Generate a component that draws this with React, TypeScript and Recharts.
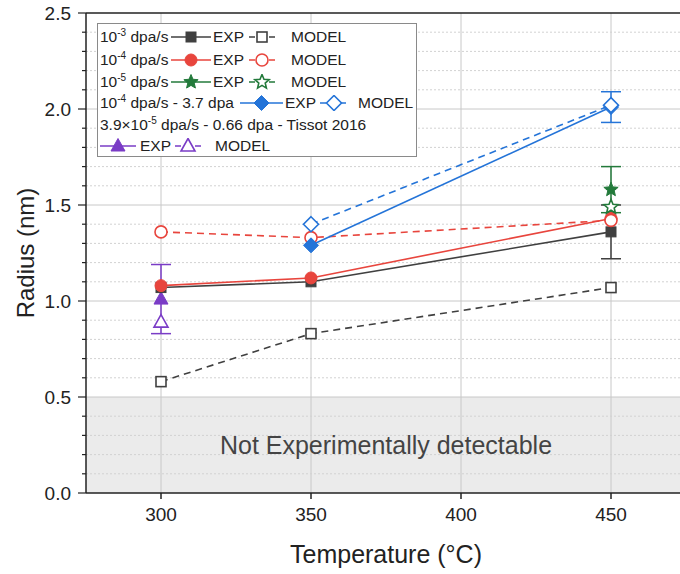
import React from 'react';
import {
  CartesianGrid,
  ComposedChart,
  ErrorBar,
  Line,
  ReferenceArea,
  ReferenceLine,
  XAxis,
  YAxis,
} from 'recharts';

// temperatures (°C) and radii (nm)
const temps = [300, 350, 450];
const exp1e3 = [1.07, 1.1, 1.36];
const exp1e3Err = [null, null, 0.14];
const model1e3 = [0.58, 0.83, 1.07];
const exp1e4 = [1.08, 1.12, 1.43];
const model1e4 = [1.36, 1.33, 1.42];

const temps1e5 = [450];
const exp1e5 = [1.58];
const exp1e5Err = [0.12];
const model1e5 = [1.49];

const temps37 = [350, 450];
const exp37 = [1.29, 2.01];
const exp37Err = [null, 0.08];
const model37 = [1.4, 2.02];

const tempsTissot = [300];
const expTissot = [1.01];
const expTissotErr = [0.18];
const modelTissot = [0.89];

const xTicks = [300, 350, 400, 450];
const yMajor = [0, 0.5, 1, 1.5, 2, 2.5];
const yAll = [
  0, 0.1, 0.2, 0.3, 0.4, 0.5, 0.6, 0.7, 0.8, 0.9, 1, 1.1, 1.2, 1.3, 1.4, 1.5,
  1.6, 1.7, 1.8, 1.9, 2, 2.1, 2.2, 2.3, 2.4, 2.5,
];
const yMinor = yAll.filter((v) => !yMajor.includes(v));

const BLACK = '#404040';
const RED = '#e8453d';
const GREEN = '#237a3b';
const BLUE = '#2474d8';
const PURPLE = '#7a3cc6';
const FONT = 'Arial, "Liberation Sans", sans-serif';

type Shape = 'square' | 'circle' | 'star' | 'diamond' | 'triangle';

function toPoints(t: number[], r: number[], err?: (number | null)[]) {
  return t.map((x, i) => {
    const p: any = { t: x, r: r[i] };
    if (err && err[i] != null) p.e = err[i];
    return p;
  });
}

function starPoints(cx: number, cy: number, ro: number) {
  const ri = ro * 0.45;
  const pts: string[] = [];
  for (let i = 0; i < 10; i++) {
    const rad = i % 2 === 0 ? ro : ri;
    const a = -Math.PI / 2 + (i * Math.PI) / 5;
    pts.push(`${cx + rad * Math.cos(a)},${cy + rad * Math.sin(a)}`);
  }
  return pts.join(' ');
}

function Marker({ cx, cy, shape, color, open }: { cx: number; cy: number; shape: Shape; color: string; open?: boolean }) {
  const fill = open ? '#fff' : color;
  const sw = open ? 1.6 : 1;
  if (shape === 'square')
    return <rect x={cx - 5} y={cy - 5} width={10} height={10} fill={fill} stroke={color} strokeWidth={sw} />;
  if (shape === 'circle') return <circle cx={cx} cy={cy} r={6} fill={fill} stroke={color} strokeWidth={sw} />;
  if (shape === 'star') return <polygon points={starPoints(cx, cy, 7.5)} fill={fill} stroke={color} strokeWidth={sw} />;
  if (shape === 'diamond')
    return (
      <polygon
        points={`${cx},${cy - 7.5} ${cx + 7.5},${cy} ${cx},${cy + 7.5} ${cx - 7.5},${cy}`}
        fill={fill}
        stroke={color}
        strokeWidth={sw}
      />
    );
  return (
    <polygon
      points={`${cx},${cy - 7.5} ${cx + 7},${cy + 5} ${cx - 7},${cy + 5}`}
      fill={fill}
      stroke={color}
      strokeWidth={sw}
    />
  );
}

const series = [
  { id: 'tE', data: toPoints(tempsTissot, expTissot, expTissotErr), color: PURPLE, shape: 'triangle' as Shape, open: false },
  { id: 'tM', data: toPoints(tempsTissot, modelTissot), color: PURPLE, shape: 'triangle' as Shape, open: true },
  { id: 'aE', data: toPoints(temps, exp1e3, exp1e3Err), color: BLACK, shape: 'square' as Shape, open: false },
  { id: 'aM', data: toPoints(temps, model1e3), color: BLACK, shape: 'square' as Shape, open: true },
  { id: 'bE', data: toPoints(temps, exp1e4), color: RED, shape: 'circle' as Shape, open: false },
  { id: 'bM', data: toPoints(temps, model1e4), color: RED, shape: 'circle' as Shape, open: true },
  { id: 'cE', data: toPoints(temps1e5, exp1e5, exp1e5Err), color: GREEN, shape: 'star' as Shape, open: false },
  { id: 'cM', data: toPoints(temps1e5, model1e5), color: GREEN, shape: 'star' as Shape, open: true },
  { id: 'dE', data: toPoints(temps37, exp37, exp37Err), color: BLUE, shape: 'diamond' as Shape, open: false },
  { id: 'dM', data: toPoints(temps37, model37), color: BLUE, shape: 'diamond' as Shape, open: true },
];

function YTick(props: any) {
  const { y, payload } = props;
  const major = yMajor.includes(payload.value);
  return (
    <g>
      <line x1={86} x2={major ? 78 : 82} y1={y} y2={y} stroke="#222" strokeWidth={1.2} />
      {major && (
        <text x={71} y={y} dy="0.35em" textAnchor="end" fontSize={19} fill="#222" fontFamily={FONT}>
          {payload.value.toFixed(1)}
        </text>
      )}
    </g>
  );
}

function Sample({ x, y, w, color, dashed, shape, open }: any) {
  return (
    <svg width={w} height={16} style={{ position: 'absolute', left: x, top: y - 8 }}>
      <line x1={0} x2={w} y1={8} y2={8} stroke={color} strokeWidth={1.6} strokeDasharray={dashed ? '6 4' : undefined} />
      <Marker cx={w / 2} cy={8} shape={shape} color={color} open={open} />
    </svg>
  );
}

function Txt({ x, y, children }: any) {
  return (
    <div style={{ position: 'absolute', left: x, top: y - 10, height: 20, fontSize: 15.5, lineHeight: '20px', whiteSpace: 'nowrap', color: '#222' }}>
      {children}
    </div>
  );
}

const sup = { fontSize: 10, lineHeight: 0, position: 'relative', top: -6 } as React.CSSProperties;

function LegendBox() {
  const rows = [37, 60, 82, 103, 125, 146];
  return (
    <div style={{ position: 'absolute', left: 0, top: 0, fontFamily: FONT }}>
      <div style={{ position: 'absolute', left: 97, top: 23, width: 318, height: 132, border: '1px solid #8a8a8a', background: '#fff' }} />
      <Txt x={100} y={rows[0]}>10<span style={sup}>-3</span> dpa/s</Txt>
      <Sample x={171} y={rows[0]} w={40} color={BLACK} shape="square" />
      <Txt x={213} y={rows[0]}>EXP</Txt>
      <Sample x={249} y={rows[0]} w={26} color={BLACK} shape="square" dashed open />
      <Txt x={291} y={rows[0]}>MODEL</Txt>

      <Txt x={100} y={rows[1]}>10<span style={sup}>-4</span> dpa/s</Txt>
      <Sample x={171} y={rows[1]} w={40} color={RED} shape="circle" />
      <Txt x={213} y={rows[1]}>EXP</Txt>
      <Sample x={249} y={rows[1]} w={26} color={RED} shape="circle" dashed open />
      <Txt x={291} y={rows[1]}>MODEL</Txt>

      <Txt x={100} y={rows[2]}>10<span style={sup}>-5</span> dpa/s</Txt>
      <Sample x={171} y={rows[2]} w={40} color={GREEN} shape="star" />
      <Txt x={213} y={rows[2]}>EXP</Txt>
      <Sample x={249} y={rows[2]} w={26} color={GREEN} shape="star" dashed open />
      <Txt x={291} y={rows[2]}>MODEL</Txt>

      <Txt x={100} y={rows[3]}>10<span style={sup}>-4</span> dpa/s - 3.7 dpa</Txt>
      <Sample x={240} y={rows[3]} w={43} color={BLUE} shape="diamond" />
      <Txt x={285} y={rows[3]}>EXP</Txt>
      <Sample x={320} y={rows[3]} w={28} color={BLUE} shape="diamond" dashed open />
      <Txt x={358} y={rows[3]}>MODEL</Txt>

      <Txt x={100} y={rows[4]}>3.9×10<span style={sup}>-5</span> dpa/s - 0.66 dpa - Tissot 2016</Txt>

      <Sample x={100} y={rows[5]} w={36} color={PURPLE} shape="triangle" />
      <Txt x={140} y={rows[5]}>EXP</Txt>
      <Sample x={175} y={rows[5]} w={26} color={PURPLE} shape="triangle" dashed open />
      <Txt x={215} y={rows[5]}>MODEL</Txt>
    </div>
  );
}

export default function App() {
  return (
    <div style={{ position: 'fixed', left: 0, top: 0, width: 680, height: 574, overflow: 'hidden', background: '#fff' }}>
      <ComposedChart width={700} height={574} margin={{ top: 13, right: 14, bottom: 0, left: 0 }}>
        {/* grey band below 0.5 nm is the lowest stripe of the major grid */}
        <CartesianGrid
          horizontalValues={[0.5, 1, 1.5, 2]}
          verticalValues={xTicks}
          stroke="#c8c8c8"
          horizontalFill={['none', 'none', 'none', 'none', '#ebebeb']}
        />
        <CartesianGrid horizontalValues={yMinor} vertical={false} stroke="#d2d2d2" strokeDasharray="2 2" />
        <ReferenceArea
          y1={0}
          y2={0.5}
          fill="none"
          stroke="none"
          label={{ value: 'Not Experimentally detectable', position: 'center', fontSize: 25, fill: '#444', fontFamily: FONT }}
        />
        <XAxis
          dataKey="t"
          type="number"
          domain={[275, 475]}
          ticks={xTicks}
          allowDataOverflow
          height={81}
          tickSize={6}
          tickMargin={9}
          stroke="#222"
          strokeWidth={1.5}
          tick={{ fontSize: 19, fill: '#222', fontFamily: FONT }}
          label={{ value: 'Temperature (°C)', position: 'insideBottom', offset: 11, fontSize: 25, fill: '#222', fontFamily: FONT }}
        />
        <YAxis
          dataKey="r"
          type="number"
          domain={[0, 2.5]}
          ticks={yAll}
          interval={0}
          width={86}
          tickLine={false}
          tick={<YTick />}
          stroke="#222"
          strokeWidth={1.5}
          label={{
            value: 'Radius (nm)',
            angle: -90,
            position: 'insideLeft',
            offset: 25,
            fontSize: 24,
            fill: '#222',
            fontFamily: FONT,
            style: { textAnchor: 'middle' },
          }}
        />
        <ReferenceLine y={2.5} stroke="#222" strokeWidth={1.5} />
        {series.map((s) => (
          <Line
            key={s.id}
            data={s.data}
            dataKey="r"
            stroke={s.color}
            strokeWidth={1.6}
            strokeDasharray={s.open ? '7 5' : undefined}
            isAnimationActive={false}
            dot={(p: any) => (
              <Marker key={`${s.id}-${p.index}`} cx={p.cx} cy={p.cy} shape={s.shape} color={s.color} open={s.open} />
            )}
          >
            {!s.open && <ErrorBar dataKey="e" direction="y" width={10} stroke={s.color} strokeWidth={1.5} />}
          </Line>
        ))}
      </ComposedChart>
      <LegendBox />
    </div>
  );
}
